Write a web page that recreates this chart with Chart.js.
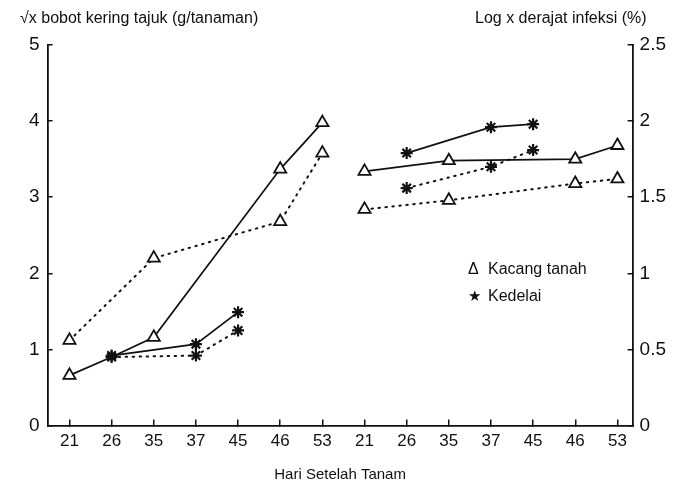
<!DOCTYPE html>
<html>
<head>
<meta charset="utf-8">
<script src="https://cdn.jsdelivr.net/npm/chart.js@4.4.1/dist/chart.umd.min.js"></script>
<style>
    html, body { margin: 0; padding: 0; background: #fff; }
    #wrap { position: relative; width: 678px; height: 486px; font-family: 'Liberation Sans', Arial, sans-serif; color: #111; }
    #chart { position: absolute; left: 0; top: 0; }
    .lbl { position: absolute; font-size: 16px; white-space: nowrap; line-height: 18px; }
</style>
</head>
<body>
<div id="wrap">
    <canvas id="chart" width="678" height="486"></canvas>
    <div class="lbl" style="left:20px; top:9px;">√x bobot kering tajuk (g/tanaman)</div>
    <div class="lbl" style="left:475px; top:9px;">Log x derajat infeksi (%)</div>
    <div class="lbl" style="left:468px; top:260px;"><span style="display:inline-block;width:20px;">Δ</span>Kacang tanah</div>
    <div class="lbl" style="left:468px; top:287px;"><span style="display:inline-block;width:20px;font-size:15px;">★</span>Kedelai</div>
</div>
<script>
// hari setelah tanam (left half: bobot kering, right half: derajat infeksi)
var days = ['21', '26', '35', '37', '45', '46', '53', '21', '26', '35', '37', '45', '46', '53'];

// left axis: sqrt x bobot kering tajuk
var kacangSolidLeft  = [0.66, 0.90, 1.16, null, null, 3.37, 3.98, null, null, null, null, null, null, null];
var kacangDotLeft    = [1.12, null, 2.20, null, null, 2.68, 3.58, null, null, null, null, null, null, null];
var kedelaiSolidLeft = [null, 0.92, null, 1.07, 1.49, null, null, null, null, null, null, null, null, null];
var kedelaiDotLeft   = [null, 0.90, null, 0.92, 1.25, null, null, null, null, null, null, null, null, null];

// right axis: log x derajat infeksi
var kacangSolidRight  = [null, null, null, null, null, null, null, 1.67, null, 1.74, null, null, 1.75, 1.84];
var kacangDotRight    = [null, null, null, null, null, null, null, 1.42, null, 1.48, null, null, 1.59, 1.62];
var kedelaiSolidRight = [null, null, null, null, null, null, null, null, 1.79, null, 1.96, 1.98, null, null];
var kedelaiDotRight   = [null, null, null, null, null, null, null, null, 1.56, null, 1.70, 1.81, null, null];

var dots = [1.5, 5.5];

// turn a value list into {x: category index, y} points, skipping the gaps
function points(arr) {
    var out = [];
    arr.forEach(function(v, i) {
        if (v !== null) out.push({ x: i, y: v });
    });
    return out;
}

function series(arr, marker, dotted, axis) {
    return {
        data: points(arr),
        yAxisID: axis,
        borderColor: '#111',
        borderWidth: dotted ? 2 : 1.7,
        borderDash: dotted ? dots : [],
        borderCapStyle: 'round',
        backgroundColor: '#fff',
        pointStyle: marker,
        pointRadius: marker === 'triangle' ? 7 : 6,
        pointBorderWidth: marker === 'triangle' ? 1.8 : 2.2,
        pointBorderColor: '#111',
        pointBackgroundColor: '#fff',
        fill: false,
        tension: 0
    };
}

var ds = [
    series(kacangSolidLeft, 'triangle', false, 'y'),
    series(kacangDotLeft, 'triangle', true, 'y'),
    series(kedelaiSolidLeft, 'star', false, 'y'),
    series(kedelaiDotLeft, 'star', true, 'y'),
    series(kacangSolidRight, 'triangle', false, 'y1'),
    series(kacangDotRight, 'triangle', true, 'y1'),
    series(kedelaiSolidRight, 'star', false, 'y1'),
    series(kedelaiDotRight, 'star', true, 'y1')
];
// the 26 point of the solid kacang line sits under the kedelai star
ds[0].pointRadius = function(ctx) { return ctx.raw && ctx.raw.x === 1 ? 0 : 7; };

var axisFont = { family: "'Liberation Sans', Arial, sans-serif", size: 19 };

new Chart(document.getElementById('chart').getContext('2d'), {
    type: 'line',
    data: { datasets: ds },
    options: {
        responsive: false,
        animation: false,
        layout: { padding: { top: 45, right: 0, left: 16, bottom: 2 } },
        plugins: { legend: { display: false }, tooltip: { enabled: false } },
        scales: {
            x: {
                type: 'linear',
                min: -0.52,
                max: 13.36,
                afterBuildTicks: function(scale) {
                    scale.ticks = days.map(function(d, i) { return { value: i }; });
                },
                grid: { drawOnChartArea: false, tickLength: -6, color: '#111', lineWidth: 1.5 },
                border: { color: '#111', width: 1.8 },
                ticks: {
                    color: '#111', padding: 12, autoSkip: false, maxRotation: 0,
                    font: { family: axisFont.family, size: 17 },
                    callback: function(v) { return days[v]; }
                },
                title: { display: true, text: 'Hari Setelah Tanam', color: '#111', padding: { top: 2, bottom: 0 }, font: { family: axisFont.family, size: 15 } }
            },
            y: {
                position: 'left',
                min: 0,
                max: 5,
                ticks: { stepSize: 1, color: '#111', padding: 13, font: axisFont },
                grid: { drawOnChartArea: false, tickLength: -5, color: '#111', lineWidth: 1.5 },
                border: { color: '#111', width: 1.8 }
            },
            y1: {
                position: 'right',
                min: 0,
                max: 2.5,
                ticks: {
                    stepSize: 0.5, color: '#111', padding: 12, font: axisFont,
                    callback: function(v) { return String(v); }
                },
                grid: { drawOnChartArea: false, tickLength: -5, color: '#111', lineWidth: 1.5 },
                border: { color: '#111', width: 1.8 }
            }
        }
    }
});
</script>
</body>
</html>
